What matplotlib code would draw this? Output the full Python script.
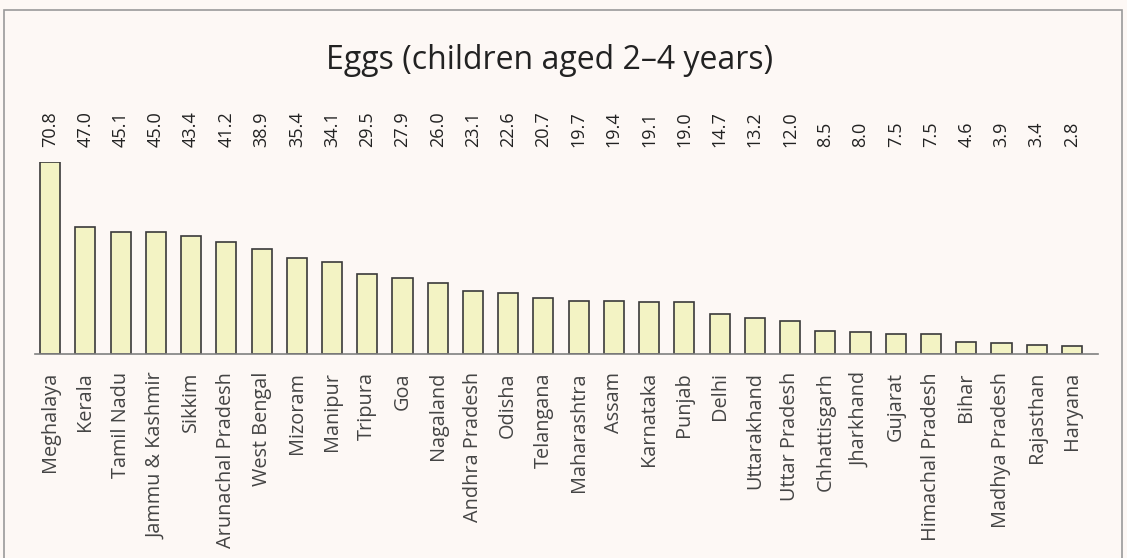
import matplotlib
matplotlib.use("Agg")
import matplotlib.pyplot as plt
import matplotlib.transforms as mtransforms
from matplotlib.patches import Rectangle

states = ["Meghalaya", "Kerala", "Tamil Nadu", "Jammu & Kashmir", "Sikkim",
          "Arunachal Pradesh", "West Bengal", "Mizoram", "Manipur", "Tripura",
          "Goa", "Nagaland", "Andhra Pradesh", "Odisha", "Telangana",
          "Maharashtra", "Assam", "Karnataka", "Punjab", "Delhi",
          "Uttarakhand", "Uttar Pradesh", "Chhattisgarh", "Jharkhand", "Gujarat",
          "Himachal Pradesh", "Bihar", "Madhya Pradesh", "Rajasthan", "Haryana"]
values = [70.8, 47.0, 45.1, 45.0, 43.4, 41.2, 38.9, 35.4, 34.1, 29.5,
          27.9, 26.0, 23.1, 22.6, 20.7, 19.7, 19.4, 19.1, 19.0, 14.7,
          13.2, 12.0, 8.5, 8.0, 7.5, 7.5, 4.6, 3.9, 3.4, 2.8]
title = "Eggs (children aged 2\u20134 years)"

plt.rcParams["font.family"] = ["Open Sans", "DejaVu Sans"]

W, H = 1127, 558
bg = "#fdf8f5"
fig = plt.figure(figsize=(W / 100, H / 100), dpi=100, facecolor=bg)

# outer frame
fig.patches.append(Rectangle((4, -20), 1118, 568, transform=None,
                             fill=False, edgecolor="#9a9a9a", linewidth=1.2))

ax = fig.add_axes([35 / W, (H - 354) / H, (1098 - 35) / W, 192 / H])
ax.set_facecolor(bg)

x = list(range(len(states)))
ax.bar(x, values, width=0.57, color="#f3f3c4", edgecolor="#3a3a3a", linewidth=1.2, zorder=2)

ax.set_xlim(-0.43, 29.74)
ax.set_ylim(0, max(values))
for s in ["top", "right", "left"]:
    ax.spines[s].set_visible(False)
ax.spines["bottom"].set_color("#808080")
ax.spines["bottom"].set_linewidth(1.2)
ax.set_yticks([])
ax.set_xticks(x)
ax.set_xticklabels(states, rotation=90, fontsize=14.3, color="#444444")
ax.tick_params(axis="x", length=0, pad=13)

trans = mtransforms.blended_transform_factory(ax.transData, ax.transAxes)
for i, v in enumerate(values):
    ax.text(i, 1.078, f"{v:.1f}", rotation=90, ha="center", va="bottom",
            fontsize=13, color="#222222", transform=trans)

fig.text(550 / W, 1 - 69 / H, title, ha="center", va="baseline", fontsize=23,
         fontweight="medium", color="#222222")

fig.savefig("out.png", dpi=100, facecolor=bg)
